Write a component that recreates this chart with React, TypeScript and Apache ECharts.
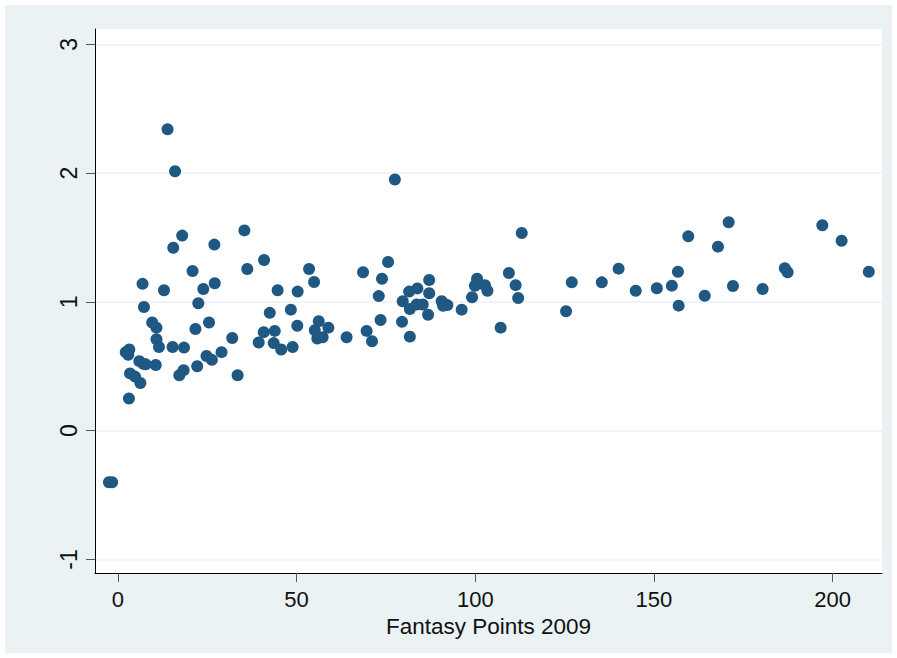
import React, { useEffect, useRef } from "react";
import * as echarts from "echarts";

const xTicks = [0, 50, 100, 150, 200];
const yTicks = [-1, 0, 1, 2, 3];
const xAxisTitle = "Fantasy Points 2009";

const fantasyPoints2009 = [
  -2.5, -1.6, 2.2, 3.2, 2.9, 6.0, 7.1, 7.8, 10.6, 3.4,
  4.8, 6.3, 3.1, 10.8, 11.5, 15.3, 18.5, 17.2, 18.4, 22.2,
  24.8, 26.3, 29.0, 32.0, 33.5, 10.8, 9.6, 21.7, 25.5, 7.3,
  22.5, 6.9, 12.9, 20.9, 23.9, 27.1, 13.9, 16.0, 18.0, 15.5,
  27.0, 35.4, 40.9, 36.2, 53.5, 54.9, 44.7, 50.3, 42.5, 48.4,
  50.2, 40.8, 43.9, 39.4, 43.6, 45.7, 48.9, 56.2, 55.1, 58.9,
  55.8, 57.3, 64.0, 69.6, 71.1, 73.5, 79.5, 81.7, 68.6, 75.6,
  73.9, 73.0, 77.5, 87.1, 83.8, 81.5, 87.1, 79.7, 81.7, 83.6,
  85.3, 86.8, 90.6, 92.2, 91.0, 96.2, 99.1, 100.5, 99.9, 102.7,
  103.4, 107.1, 109.4, 111.3, 112.0, 113.0, 125.4, 127.0, 135.4, 140.1,
  144.9, 150.8, 155.0, 156.7, 156.9, 159.6, 164.2, 167.9, 170.9, 172.1,
  180.4, 186.6, 187.4, 197.1, 202.5, 210.1,
];

const ratioValues = [
  -0.4, -0.4, 0.61, 0.63, 0.59, 0.54, 0.52, 0.515, 0.51, 0.445,
  0.42, 0.37, 0.25, 0.71, 0.65, 0.65, 0.645, 0.43, 0.47, 0.5,
  0.58, 0.55, 0.61, 0.72, 0.43, 0.8, 0.84, 0.79, 0.84, 0.96,
  0.99, 1.14, 1.09, 1.24, 1.1, 1.145, 2.34, 2.015, 1.515, 1.42,
  1.445, 1.555, 1.325, 1.255, 1.255, 1.155, 1.09, 1.08, 0.915, 0.94,
  0.815, 0.765, 0.775, 0.685, 0.68, 0.63, 0.65, 0.85, 0.78, 0.8,
  0.715, 0.725, 0.725, 0.775, 0.695, 0.86, 0.845, 0.73, 1.23, 1.31,
  1.18, 1.045, 1.95, 1.17, 1.105, 1.08, 1.067, 1.005, 0.945, 0.98,
  0.98, 0.9, 1.005, 0.975, 0.97, 0.94, 1.036, 1.18, 1.125, 1.13,
  1.087, 0.8, 1.224, 1.13, 1.03, 1.535, 0.927, 1.152, 1.152, 1.258,
  1.087, 1.106, 1.126, 1.234, 0.971, 1.509, 1.048, 1.429, 1.618, 1.123,
  1.1, 1.261, 1.23, 1.595, 1.475, 1.234,
];

const FONT = '"Liberation Sans", Arial, Helvetica, sans-serif';

export default function App() {
  const ref = useRef<HTMLDivElement>(null);

  useEffect(() => {
    if (!ref.current) return;
    const chart = echarts.init(ref.current, null, { renderer: "svg" });
    const data = fantasyPoints2009.map((x, i) => [x, ratioValues[i]]);
    chart.setOption({
      animation: false,
      backgroundColor: "#eaf2f3",
      grid: {
        left: 90,
        right: 10,
        top: 24,
        bottom: 80,
        show: true,
        backgroundColor: "#ffffff",
        borderWidth: 0,
      },
      xAxis: {
        type: "value",
        min: -6.4,
        max: 213.8,
        name: xAxisTitle,
        nameLocation: "middle",
        nameGap: 33,
        nameTextStyle: { fontFamily: FONT, fontSize: 22.5, color: "#111" },
        axisLine: { show: true, onZero: false, lineStyle: { color: "#000", width: 1 } },
        axisTick: { show: true, length: 9, customValues: xTicks, lineStyle: { color: "#555" } },
        axisLabel: {
          customValues: xTicks,
          margin: 15,
          fontFamily: FONT,
          fontSize: 22,
          color: "#111",
        },
        splitLine: { show: false },
      },
      yAxis: {
        type: "value",
        min: -1.105,
        max: 3.119,
        axisLine: { show: true, onZero: false, lineStyle: { color: "#000", width: 1 } },
        axisTick: { show: true, length: 9, customValues: yTicks, lineStyle: { color: "#555" } },
        axisLabel: {
          customValues: yTicks,
          rotate: 90,
          margin: 15,
          fontFamily: FONT,
          fontSize: 23,
          color: "#111",
        },
        splitLine: { show: true, lineStyle: { color: "#eaf2f3", width: 1.5 } },
      },
      series: [
        {
          type: "scatter",
          data,
          symbol: "circle",
          symbolSize: 12,
          itemStyle: { color: "#1f5883", opacity: 1 },
          silent: true,
        },
      ],
    });
    return () => chart.dispose();
  }, []);

  return (
    <div style={{ position: "absolute", left: 0, top: 0, width: 897, height: 658, background: "#ffffff" }}>
      <div ref={ref} style={{ position: "absolute", left: 5, top: 5, width: 887, height: 648 }} />
    </div>
  );
}
